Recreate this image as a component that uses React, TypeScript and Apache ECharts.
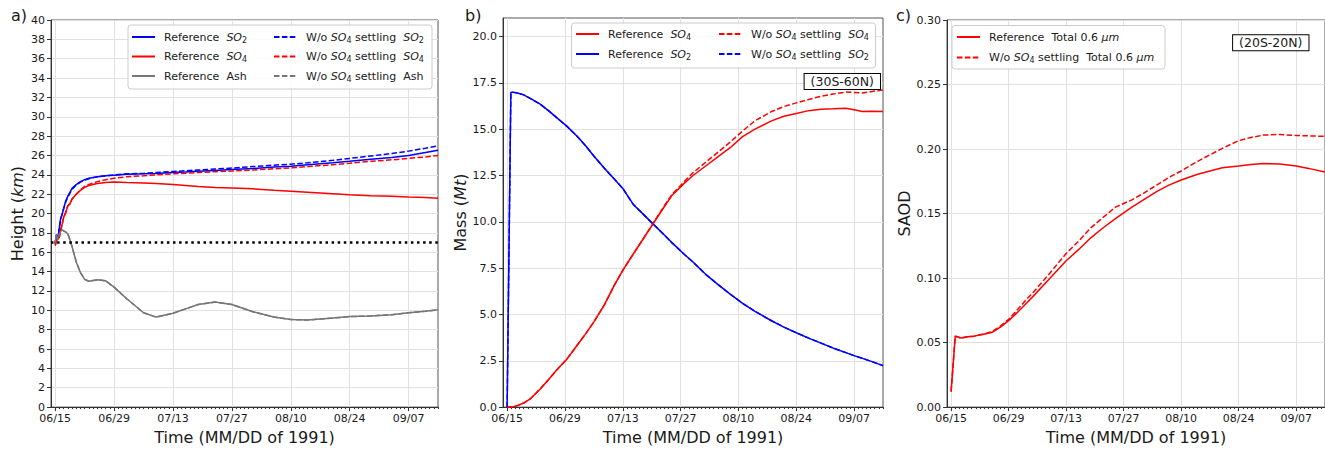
import React, { useEffect, useRef } from "react";
import * as echarts from "echarts";

const FONT = "DejaVu Sans";
const X_MIN = -1;
const X_MAX = 91;
// days after 1991-06-15
const TICK_DAYS = [0, 14, 28, 42, 56, 70, 84];
const TICK_LABELS = ["06/15", "06/29", "07/13", "07/27", "08/10", "08/24", "09/07"];
const MINOR_DAYS = Array.from({ length: 92 }, (_, i) => i);

// ---------- Panel a: plume height (km) ----------
const daysA = [0, 0.3, 0.7, 1, 1.3, 1.7, 2, 2.5, 3, 3.5, 4, 5, 6, 7, 8, 10, 12, 14, 17, 21, 24, 28, 31, 34, 38, 42, 47, 52, 56, 60, 66, 70, 75, 80, 84, 88, 91];
const refSO2A = [16.9, 17.8, 17.5, 18.6, 19.5, 20.0, 20.5, 21.3, 21.8, 22.2, 22.6, 23.0, 23.3, 23.5, 23.65, 23.8, 23.9, 23.95, 24.05, 24.1, 24.15, 24.25, 24.3, 24.38, 24.45, 24.55, 24.65, 24.8, 24.9, 25.05, 25.25, 25.4, 25.6, 25.8, 26.0, 26.3, 26.55];
const refSO4A = [16.7, 17.2, 17.4, 17.6, 18.3, 19.0, 19.6, 20.1, 20.8, 21.0, 21.5, 22.0, 22.4, 22.7, 22.9, 23.1, 23.2, 23.25, 23.2, 23.15, 23.1, 23.0, 22.9, 22.8, 22.7, 22.65, 22.55, 22.4, 22.3, 22.2, 22.05, 21.95, 21.85, 21.8, 21.72, 21.65, 21.58];
const refAshA = [17.0, 17.8, 17.3, 17.9, 18.2, 18.3, 18.2, 18.1, 17.9, 17.3, 16.6, 15.0, 13.9, 13.2, 13.0, 13.15, 13.05, 12.4, 11.2, 9.75, 9.3, 9.7, 10.15, 10.6, 10.85, 10.6, 9.85, 9.3, 9.05, 9.0, 9.2, 9.35, 9.42, 9.55, 9.75, 9.9, 10.05];
const woSO2A = [16.9, 17.8, 17.5, 18.6, 19.4, 20.0, 20.5, 21.2, 21.7, 22.1, 22.5, 22.95, 23.25, 23.45, 23.6, 23.8, 23.9, 24.0, 24.1, 24.15, 24.25, 24.35, 24.42, 24.5, 24.6, 24.7, 24.85, 25.0, 25.1, 25.25, 25.5, 25.7, 25.95, 26.2, 26.45, 26.75, 27.0];
const woSO4A = [16.7, 17.2, 17.4, 17.6, 18.3, 19.0, 19.6, 20.1, 20.8, 21.0, 21.5, 22.0, 22.45, 22.8, 23.0, 23.3, 23.5, 23.65, 23.8, 23.9, 24.0, 24.1, 24.17, 24.25, 24.32, 24.4, 24.5, 24.62, 24.72, 24.85, 25.05, 25.2, 25.4, 25.55, 25.7, 25.85, 26.0];
const woAshA = [17.0, 17.8, 17.3, 17.9, 18.2, 18.3, 18.2, 18.1, 17.9, 17.3, 16.6, 15.0, 13.9, 13.2, 13.0, 13.15, 13.05, 12.4, 11.2, 9.75, 9.3, 9.7, 10.15, 10.6, 10.85, 10.6, 9.85, 9.3, 9.05, 9.0, 9.2, 9.35, 9.42, 9.55, 9.75, 9.9, 10.05];
const TROPOPAUSE_KM = 17;

// ---------- Panel b: mass (Mt), 30S-60N ----------
const daysB = [0, 0.9, 1.2, 2.5, 4, 5.7, 8, 10, 12, 14.5, 17, 19, 21, 23.5, 26, 28, 30.5, 33, 35.5, 38, 40, 43, 45, 48, 51, 54, 57, 60, 64, 67, 70, 73, 76, 79, 82, 84, 86, 88, 91];
const refSO4B = [0, 0, 0, 0.08, 0.22, 0.46, 0.98, 1.48, 2.0, 2.6, 3.35, 3.95, 4.6, 5.5, 6.6, 7.38, 8.25, 9.1, 9.95, 10.8, 11.45, 12.1, 12.5, 13.0, 13.5, 14.0, 14.6, 15.0, 15.45, 15.7, 15.85, 16.0, 16.08, 16.1, 16.13, 16.05, 15.95, 15.97, 15.95];
const refSO2B = [0, 16.98, 17.0, 16.95, 16.85, 16.65, 16.35, 16.0, 15.62, 15.15, 14.6, 14.1, 13.55, 12.9, 12.3, 11.8, 10.95, 10.4, 9.85, 9.3, 8.85, 8.22, 7.83, 7.18, 6.62, 6.1, 5.6, 5.17, 4.66, 4.32, 4.01, 3.72, 3.45, 3.18, 2.94, 2.78, 2.63, 2.48, 2.24];
const woSO4B = [0, 0, 0, 0.08, 0.22, 0.46, 0.98, 1.48, 2.0, 2.6, 3.35, 3.95, 4.6, 5.5, 6.6, 7.38, 8.25, 9.1, 9.97, 10.85, 11.5, 12.2, 12.65, 13.2, 13.75, 14.3, 14.9, 15.45, 15.95, 16.22, 16.42, 16.6, 16.78, 16.9, 17.0, 16.98, 16.95, 17.02, 17.12];
const woSO2B = [0, 16.98, 17.0, 16.95, 16.85, 16.65, 16.35, 16.0, 15.62, 15.15, 14.6, 14.1, 13.55, 12.9, 12.3, 11.8, 10.95, 10.4, 9.85, 9.3, 8.85, 8.22, 7.83, 7.18, 6.62, 6.1, 5.6, 5.17, 4.66, 4.32, 4.01, 3.72, 3.45, 3.18, 2.94, 2.78, 2.63, 2.48, 2.24];
const MASS_TICKS = [0, 2.5, 5, 7.5, 10, 12.5, 15, 17.5, 20];

// ---------- Panel c: SAOD, 20S-20N ----------
const daysC = [0, 1, 2.4, 4, 5.6, 8, 10, 12, 14, 16, 18.5, 20, 23.5, 28, 31, 34, 37, 40, 44, 47, 50, 53, 56, 60, 63, 66, 70, 73, 76, 80, 84, 87, 91];
const refSAOD = [0.012, 0.055, 0.0535, 0.0545, 0.055, 0.0565, 0.058, 0.062, 0.067, 0.073, 0.081, 0.086, 0.098, 0.1134, 0.122, 0.1312, 0.139, 0.146, 0.155, 0.161, 0.167, 0.172, 0.176, 0.1805, 0.183, 0.1855, 0.1868, 0.188, 0.1888, 0.1884, 0.1868, 0.185, 0.1822];
const woSAOD = [0.012, 0.055, 0.0535, 0.0545, 0.055, 0.0567, 0.0585, 0.0628, 0.068, 0.075, 0.084, 0.089, 0.1018, 0.119, 0.1285, 0.1389, 0.147, 0.155, 0.1606, 0.166, 0.172, 0.178, 0.183, 0.1905, 0.1955, 0.2005, 0.2065, 0.209, 0.2108, 0.2113, 0.2105, 0.2102, 0.2098];

const BLUE = "#0000ff";
const RED = "#ff0000";
const GRAY = "#767676";
const DASH = [5.5, 2.4];
const GRID_COLOR = "#e1e1e1";
const AXIS_COLOR = "#333333";
const TEXT_COLOR = "#1a1a1a";

const LABELS: Record<string, string> = {
  "a-ref-so2": "Reference  {i|SO}{s|2}",
  "a-ref-so4": "Reference  {i|SO}{s|4}",
  "a-ref-ash": "Reference  Ash",
  "a-wo-so2": "W/o {i|SO}{s|4} settling  {i|SO}{s|2}",
  "a-wo-so4": "W/o {i|SO}{s|4} settling  {i|SO}{s|4}",
  "a-wo-ash": "W/o {i|SO}{s|4} settling  Ash",
  "b-ref-so4": "Reference  {i|SO}{s|4}",
  "b-ref-so2": "Reference  {i|SO}{s|2}",
  "b-wo-so4": "W/o {i|SO}{s|4} settling  {i|SO}{s|4}",
  "b-wo-so2": "W/o {i|SO}{s|4} settling  {i|SO}{s|2}",
  "c-ref": "Reference  Total 0.6 {i|μm}",
  "c-wo": "W/o {i|SO}{s|4} settling  Total 0.6 {i|μm}",
};

const zip = (xs: number[], ys: number[]) => xs.map((x, i) => [x, ys[i]]);

function line(name: string, g: number, xs: number[], ys: number[], color: string, dashed: boolean, extra: any = {}) {
  return {
    name,
    type: "line",
    xAxisIndex: g * 2,
    yAxisIndex: g,
    data: zip(xs, ys),
    symbol: "none",
    showSymbol: false,
    silent: true,
    lineStyle: { color, width: 1.5, type: dashed ? DASH : "solid" },
    itemStyle: { color },
    z: 2,
    ...extra,
  };
}

function xAxesFor(g: number) {
  return [
    {
      type: "value",
      gridIndex: g,
      min: X_MIN,
      max: X_MAX,
      name: "Time (MM/DD of 1991)",
      nameLocation: "middle",
      nameGap: 18,
      nameTextStyle: { fontSize: 16, fontFamily: FONT, color: TEXT_COLOR },
      axisLine: { show: true, onZero: false, lineStyle: { color: AXIS_COLOR, width: 1 } },
      axisTick: { show: true, customValues: TICK_DAYS, length: 4, lineStyle: { color: AXIS_COLOR } },
      axisLabel: {
        show: true,
        customValues: TICK_DAYS,
        formatter: (v: number) => {
          const k = TICK_DAYS.indexOf(Math.round(v));
          return k >= 0 ? TICK_LABELS[k] : "";
        },
        fontSize: 11,
        fontFamily: FONT,
        color: TEXT_COLOR,
        margin: 6,
      },
      splitLine: { show: true, customValues: TICK_DAYS, lineStyle: { color: GRID_COLOR, width: 1 } },
    },
    {
      type: "value",
      gridIndex: g,
      min: X_MIN,
      max: X_MAX,
      position: "bottom",
      axisLine: { show: false, onZero: false },
      axisTick: { show: true, customValues: MINOR_DAYS, length: 2, lineStyle: { color: AXIS_COLOR } },
      axisLabel: { show: false },
      splitLine: { show: false },
    },
  ];
}

const yName = (fontSize = 16) => ({
  fontSize,
  fontFamily: FONT,
  color: TEXT_COLOR,
  rich: { i: { fontSize, fontFamily: FONT, fontStyle: "italic", color: TEXT_COLOR } },
});

const yCommon = {
  type: "value",
  nameLocation: "middle",
  axisLine: { show: true, onZero: false, lineStyle: { color: AXIS_COLOR, width: 1 } },
  axisTick: { show: true, length: 4, lineStyle: { color: AXIS_COLOR } },
  splitLine: { show: true, lineStyle: { color: GRID_COLOR, width: 1 } },
};

const labelStyle = { fontSize: 11, fontFamily: FONT, color: TEXT_COLOR, margin: 6 };

const legendText = {
  fontSize: 11,
  fontFamily: FONT,
  color: TEXT_COLOR,
  lineHeight: 14,
  padding: [0, 0, 0, 4],
  rich: {
    i: { fontSize: 11, fontFamily: FONT, fontStyle: "italic", color: TEXT_COLOR },
    s: { fontSize: 8, fontFamily: FONT, color: TEXT_COLOR, verticalAlign: "bottom" },
  },
};

function legend(left: number, top: number, gap: number, data: string[]) {
  return {
    orient: "vertical",
    left,
    top,
    padding: 0,
    itemGap: gap,
    itemWidth: 23,
    itemHeight: 10,
    selectedMode: false,
    z: 6,
    data,
    itemStyle: { opacity: 0 },
    textStyle: legendText,
    formatter: (n: string) => LABELS[n] ?? n,
  };
}

function frame(x: number, y: number, w: number, h: number) {
  return {
    type: "rect",
    z: 4,
    shape: { x, y, width: w, height: h, r: 3 },
    style: { fill: "rgba(255,255,255,0.85)", stroke: "#cccccc", lineWidth: 1 },
  };
}

function panelLabel(text: string, x: number) {
  return {
    type: "text",
    x,
    y: 15,
    z: 6,
    style: { text, font: `16px "${FONT}"`, fill: TEXT_COLOR, verticalAlign: "middle" },
  };
}

function regionBox(text: string, cx: number, cy: number) {
  return {
    type: "text",
    x: cx,
    y: cy,
    z: 6,
    style: {
      text,
      font: `12.5px "${FONT}"`,
      fill: TEXT_COLOR,
      align: "center",
      verticalAlign: "middle",
      backgroundColor: "#ffffff",
      borderColor: "#000000",
      borderWidth: 1,
      padding: [1, 6, 1, 6],
    },
  };
}

function buildOption() {
  const gridBase = { show: true, borderColor: "#555555", borderWidth: 1, backgroundColor: "transparent", containLabel: false };
  return {
    animation: false,
    textStyle: { fontFamily: FONT },
    grid: [
      { ...gridBase, left: 51, top: 20, width: 387, height: 391 },
      { ...gridBase, left: 503, top: 18, width: 380, height: 394 },
      { ...gridBase, left: 947, top: 20, width: 380, height: 391 },
    ],
    xAxis: [...xAxesFor(0), ...xAxesFor(1), ...xAxesFor(2)],
    yAxis: [
      {
        ...yCommon,
        gridIndex: 0,
        min: 0,
        max: 40,
        interval: 2,
        name: "Height ({i|km})",
        nameGap: 26,
        nameTextStyle: yName(),
        axisLabel: { ...labelStyle },
      },
      {
        ...yCommon,
        gridIndex: 1,
        min: 0,
        max: 21,
        interval: 2.5,
        name: "Mass ({i|Mt})",
        nameGap: 35,
        nameTextStyle: yName(),
        axisTick: { show: true, length: 4, customValues: MASS_TICKS, lineStyle: { color: AXIS_COLOR } },
        axisLabel: { ...labelStyle, customValues: MASS_TICKS, formatter: (v: number) => v.toFixed(1) },
      },
      {
        ...yCommon,
        gridIndex: 2,
        min: 0,
        max: 0.3,
        interval: 0.05,
        name: "SAOD",
        nameGap: 34,
        nameTextStyle: yName(),
        axisLabel: { ...labelStyle, formatter: (v: number) => v.toFixed(2) },
      },
    ],
    legend: [
      legend(131, 30, 5.5, ["a-ref-so2", "a-ref-so4", "a-ref-ash"]),
      legend(273, 30, 5.5, ["a-wo-so2", "a-wo-so4", "a-wo-ash"]),
      legend(575, 27, 6, ["b-ref-so4", "b-ref-so2"]),
      legend(718, 27, 6, ["b-wo-so4", "b-wo-so2"]),
      legend(956, 30, 6.6, ["c-ref", "c-wo"]),
    ],
    graphic: [
      frame(128, 25, 304, 64),
      frame(571.5, 23, 304, 45),
      frame(952, 25.5, 213, 43.5),
      panelLabel("a)", 11),
      panelLabel("b)", 465),
      panelLabel("c)", 896),
      regionBox("(30S-60N)", 842.3, 81.5),
      regionBox("(20S-20N)", 1270.8, 42.8),
    ],
    series: [
      line("a-ref-so2", 0, daysA, refSO2A, BLUE, false),
      line("a-ref-so4", 0, daysA, refSO4A, RED, false),
      line("a-ref-ash", 0, daysA, refAshA, GRAY, false, {
        markLine: {
          silent: true,
          symbol: ["none", "none"],
          label: { show: false },
          lineStyle: { color: "#000000", type: [2.5, 3.6], width: 2.5 },
          data: [{ yAxis: TROPOPAUSE_KM }],
        },
      }),
      line("a-wo-so2", 0, daysA, woSO2A, BLUE, true),
      line("a-wo-so4", 0, daysA, woSO4A, RED, true),
      line("a-wo-ash", 0, daysA, woAshA, GRAY, true),
      line("b-ref-so4", 1, daysB, refSO4B, RED, false),
      line("b-ref-so2", 1, daysB, refSO2B, BLUE, false),
      line("b-wo-so4", 1, daysB, woSO4B, RED, true),
      line("b-wo-so2", 1, daysB, woSO2B, BLUE, true),
      line("c-ref", 2, daysC, refSAOD, RED, false),
      line("c-wo", 2, daysC, woSAOD, RED, true),
    ],
  };
}

export default function App() {
  const ref = useRef<HTMLDivElement>(null);
  useEffect(() => {
    if (!ref.current) return;
    const chart = echarts.init(ref.current, null, { renderer: "svg" });
    chart.setOption(buildOption() as any);
    return () => chart.dispose();
  }, []);
  return (
    <div
      ref={ref}
      style={{ position: "absolute", left: 0, top: 0, width: 1325, height: 450, background: "#ffffff" }}
    />
  );
}
